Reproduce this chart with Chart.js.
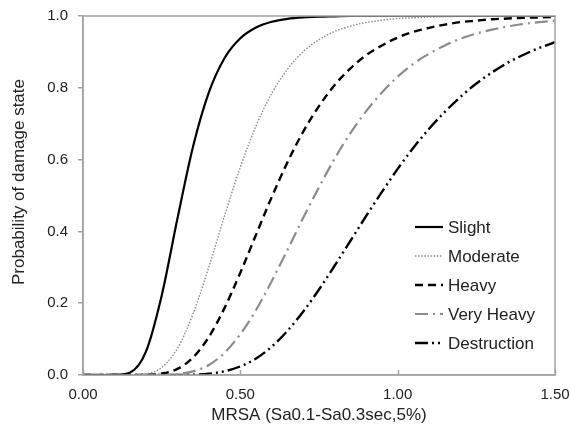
<!DOCTYPE html>
<html>
<head>
<meta charset="utf-8">
<script src="https://cdn.jsdelivr.net/npm/chart.js@4"></script>
<style>
  html, body { margin: 0; padding: 0; background: #fff; }
  #wrap { width: 570px; height: 426px; }
</style>
</head>
<body>
<div id="wrap"><canvas id="myChart" width="570" height="426"></canvas></div>
<script>
// MRSA values (x) shared by all curves
const mrsa = [0.00, 0.05, 0.10, 0.15, 0.20, 0.25, 0.30, 0.35, 0.40, 0.45,
              0.50, 0.55, 0.60, 0.65, 0.70, 0.75, 0.80, 0.85, 0.90, 0.95,
              1.00, 1.05, 1.10, 1.15, 1.20, 1.25, 1.30, 1.35, 1.40, 1.45, 1.50];

const slight = [0, 0, 0.0001, 0.007, 0.065, 0.221, 0.435, 0.637, 0.787, 0.883,
                0.938, 0.968, 0.984, 0.992, 0.996, 0.998, 0.999, 1, 1, 1,
                1, 1, 1, 1, 1, 1, 1, 1, 1, 1, 1];
const moderate = [0, 0, 0, 0.0001, 0.003, 0.021, 0.074, 0.171, 0.301, 0.444,
                  0.579, 0.694, 0.785, 0.852, 0.901, 0.934, 0.957, 0.972, 0.982, 0.988,
                  0.993, 0.995, 0.997, 0.998, 0.999, 0.999, 1, 1, 1, 1, 1];
const heavy = [0, 0, 0, 0, 0.0004, 0.004, 0.017, 0.049, 0.106, 0.187,
               0.285, 0.391, 0.496, 0.593, 0.678, 0.749, 0.808, 0.854, 0.891, 0.918,
               0.940, 0.956, 0.967, 0.976, 0.983, 0.987, 0.991, 0.993, 0.995, 0.996, 0.997];
const veryHeavy = [0, 0, 0, 0, 0, 0.0004, 0.0025, 0.010, 0.028, 0.062,
                   0.114, 0.181, 0.262, 0.349, 0.438, 0.523, 0.603, 0.674, 0.735, 0.787,
                   0.831, 0.867, 0.895, 0.918, 0.937, 0.951, 0.962, 0.971, 0.978, 0.983, 0.987];
const destruction = [0, 0, 0, 0, 0, 0, 0.0002, 0.001, 0.0037, 0.0105,
                     0.024, 0.046, 0.079, 0.123, 0.177, 0.238, 0.305, 0.374, 0.443, 0.510,
                     0.574, 0.633, 0.686, 0.733, 0.775, 0.812, 0.843, 0.870, 0.892, 0.911, 0.927];

const seriesNames = ['Slight', 'Moderate', 'Heavy', 'Very Heavy', 'Destruction'];
const xTicks = [0, 0.5, 1.0, 1.5];
const xTickLabels = ['0.00', '0.50', '1.00', '1.50'];
const yTicks = [0, 0.2, 0.4, 0.6, 0.8, 1.0];
const yTickLabels = ['0.0', '0.2', '0.4', '0.6', '0.8', '1.0'];
const xTitle = 'MRSA (Sa0.1-Sa0.3sec,5%)';
const yTitle = 'Probability of damage state';

const FONT = '"Liberation Sans", Arial, sans-serif';
const frameColor = '#a3a3a3';

function pts(ys) {
    return mrsa.map(function (x, i) { return { x: x, y: ys[i] }; });
}

const styles = [
    { color: '#000000', width: 2.2, dash: [] },
    { color: '#8a8a8a', width: 1.4, dash: [1.5, 1.6] },
    { color: '#000000', width: 2.4, dash: [8, 5] },
    { color: '#8c8c8c', width: 2.2, dash: [13, 5, 2, 5] },
    { color: '#000000', width: 2.4, dash: [13, 4, 2, 4, 2, 4] }
];
const seriesData = [slight, moderate, heavy, veryHeavy, destruction];

// box frame, inward x ticks, y title and legend inside the plot
const extras = {
    id: 'extras',
    afterDraw: function (chart) {
        const ctx = chart.ctx;
        const a = chart.chartArea;
        const xs = chart.scales.x;
        ctx.save();
        ctx.strokeStyle = frameColor;
        ctx.lineWidth = 1.5;
        ctx.strokeRect(a.left, a.top, a.right - a.left, a.bottom - a.top);
        // x tick marks pointing up
        xTicks.forEach(function (v) {
            const px = Math.round(xs.getPixelForValue(v)) + 0.5;
            ctx.beginPath();
            ctx.moveTo(px, a.bottom);
            ctx.lineTo(px, a.bottom - 5);
            ctx.stroke();
        });
        // y title
        ctx.fillStyle = '#222';
        ctx.font = '17px ' + FONT;
        ctx.textAlign = 'center';
        ctx.textBaseline = 'middle';
        ctx.translate(19, 182);
        ctx.rotate(-Math.PI / 2);
        ctx.fillText(yTitle, 0, 0);
        ctx.restore();

        // legend
        ctx.save();
        ctx.font = '17px ' + FONT;
        ctx.textBaseline = 'middle';
        ctx.textAlign = 'left';
        const lx = a.right - 140;
        chart.data.datasets.forEach(function (ds, i) {
            const y = 227 + i * 29;
            ctx.strokeStyle = ds.borderColor;
            ctx.lineWidth = ds.borderWidth;
            ctx.setLineDash(ds.borderDash);
            ctx.beginPath();
            ctx.moveTo(lx, y);
            ctx.lineTo(lx + 28, y);
            ctx.stroke();
            ctx.setLineDash([]);
            ctx.fillStyle = '#222';
            ctx.fillText(ds.label, lx + 33, y + 1);
        });
        ctx.restore();
    }
};

new Chart(document.getElementById('myChart'), {
    type: 'line',
    data: {
        datasets: seriesData.map(function (ys, i) {
            return {
                label: seriesNames[i],
                data: pts(ys),
                borderColor: styles[i].color,
                borderWidth: styles[i].width,
                borderDash: styles[i].dash,
                pointRadius: 0,
                fill: false,
                cubicInterpolationMode: 'monotone'
            };
        })
    },
    options: {
        responsive: false,
        animation: false,
        layout: { padding: { left: 0, right: 15, top: 16, bottom: 0 } },
        plugins: {
            legend: { display: false },
            tooltip: { enabled: false }
        },
        scales: {
            x: {
                type: 'linear',
                min: 0,
                max: 1.5,
                afterFit: function (scale) {
                    scale.height = 51;
                    scale.paddingLeft = 0;
                    scale.paddingRight = 0;
                },
                afterBuildTicks: function (scale) {
                    scale.ticks = xTicks.map(function (v) { return { value: v }; });
                },
                grid: { display: true, drawOnChartArea: false, drawTicks: false },
                border: { display: true, color: frameColor, width: 1.5 },
                ticks: {
                    padding: 11,
                    color: '#222',
                    font: { family: FONT, size: 15 },
                    maxRotation: 0,
                    callback: function (v, i) { return xTickLabels[i]; }
                },
                title: {
                    display: true,
                    text: xTitle,
                    color: '#222',
                    font: { family: FONT, size: 17 },
                    padding: { top: 0, bottom: 0 }
                }
            },
            y: {
                min: 0,
                max: 1,
                afterFit: function (scale) {
                    scale.width = 83;
                    scale.paddingTop = 0;
                    scale.paddingBottom = 0;
                },
                afterBuildTicks: function (scale) {
                    scale.ticks = yTicks.map(function (v) { return { value: v }; });
                },
                grid: { display: true, drawOnChartArea: false, tickLength: 5, color: frameColor, lineWidth: 1.5 },
                border: { display: true, color: frameColor, width: 1.5 },
                ticks: {
                    padding: 10,
                    color: '#222',
                    font: { family: FONT, size: 15 },
                    callback: function (v, i) { return yTickLabels[i]; }
                }
            }
        }
    },
    plugins: [extras]
});
</script>
</body>
</html>
